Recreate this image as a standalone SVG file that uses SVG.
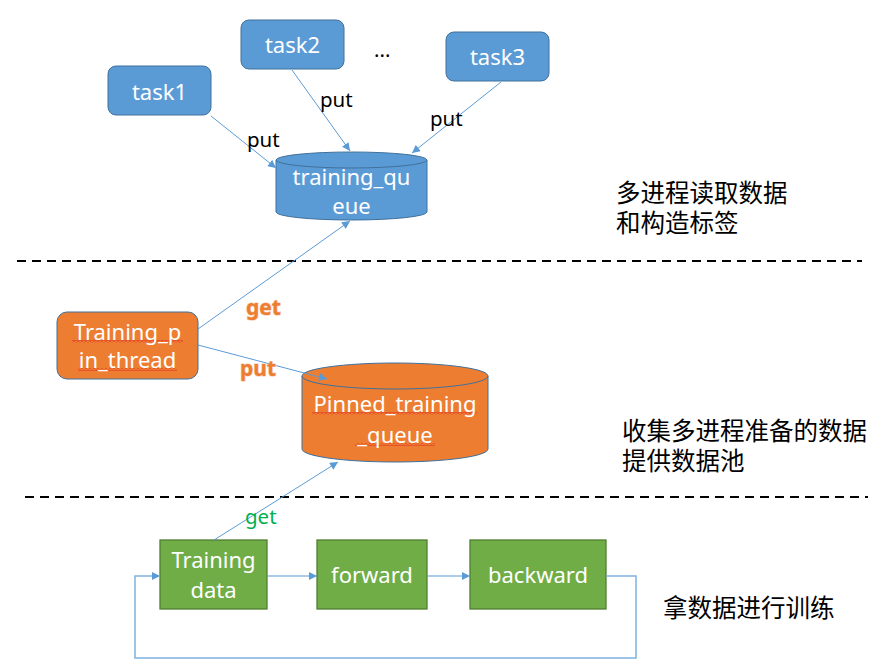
<svg xmlns="http://www.w3.org/2000/svg" width="882" height="664" viewBox="0 0 882 664">
<defs>
<marker id="arr" viewBox="0 0 10 10" refX="10" refY="5" markerWidth="9" markerHeight="8" markerUnits="userSpaceOnUse" orient="auto">
<path d="M0,0 L10,5 L0,10 Z" fill="#5B9BD5"/>
</marker>
<pattern id="sq" width="4" height="3" patternUnits="userSpaceOnUse">
<path d="M0,0.5 L2,2.5 L4,0.5" fill="none" stroke="#E02020" stroke-width="0.9"/>
</pattern>
</defs>
<style>
text{font-family:"Noto Sans","Noto Sans CJK SC",sans-serif}
.w{fill:#FFFFFF;font-size:22px;text-anchor:middle}
.b{fill:#000000;font-size:20.5px}
.cn{fill:#000000;font-size:24.5px;font-family:"DejaVu Sans","Noto Sans CJK SC",sans-serif}
.og{fill:#ED7D31;stroke:#F8CBAD;stroke-width:1.2;paint-order:stroke;font-size:21px;font-weight:bold}
.gg{fill:#00B050;font-size:20.5px}
.blue{fill:#5B9BD5;stroke:#41719C;stroke-width:1}
.orange{fill:#ED7D31;stroke:#41719C;stroke-width:1}
.green{fill:#70AD47;stroke:#507E32;stroke-width:1.3}
.c{fill:none;stroke:#5B9BD5;stroke-width:1}
.dash{stroke:#000000;stroke-width:2;stroke-dasharray:9,6;fill:none}
</style>

<g id="separators">
<line class="dash" x1="17" y1="261" x2="862" y2="261"/>
<line class="dash" x1="25" y1="497" x2="868" y2="497"/>
</g>

<g id="task1">
<rect class="blue" x="108" y="66" width="103" height="49" rx="8"/>
<text class="w" x="159.5" y="100">task1</text>
</g>
<g id="task2">
<rect class="blue" x="241" y="20" width="103" height="49" rx="8"/>
<text class="w" x="292.5" y="53">task2</text>
</g>
<g id="task3">
<rect class="blue" x="446" y="32" width="103" height="49" rx="8"/>
<text class="w" x="497.5" y="65">task3</text>
</g>
<g id="ellipsis">
<text class="b" x="374" y="57">...</text>
</g>

<g id="training_queue">
<path class="blue" d="M276,160 A75.5,8 0 0 1 427,160 L427,212 A75.5,8 0 0 1 276,212 Z"/>
<path d="M276,160 A75.5,8 0 0 0 427,160" fill="none" stroke="#41719C" stroke-width="1"/>
<text class="w" x="351.5" y="185">training_qu</text>
<text class="w" x="351.5" y="214">eue</text>
</g>

<g id="training_pin_thread">
<rect class="orange" x="57" y="312" width="141" height="67" rx="10"/>
<rect x="72" y="340" width="111" height="3" fill="url(#sq)"/>
<rect x="78" y="368" width="99" height="3" fill="url(#sq)"/>
<text class="w" x="127.5" y="340">Training_p</text>
<text class="w" x="127.5" y="368">in_thread</text>
</g>

<g id="pinned_training_queue">
<path class="orange" d="M302,376 A93,13 0 0 1 488,376 L488,449 A93,13 0 0 1 302,449 Z"/>
<path d="M302,376 A93,13 0 0 0 488,376" fill="none" stroke="#41719C" stroke-width="1"/>
<rect x="312" y="412" width="165" height="3" fill="url(#sq)"/>
<rect x="355" y="443" width="80" height="3" fill="url(#sq)"/>
<text class="w" x="395" y="412">Pinned_training</text>
<text class="w" x="395" y="443">_queue</text>
</g>

<g id="training_data">
<rect class="green" x="160" y="540" width="107" height="69"/>
<text class="w" x="213.5" y="568">Training</text>
<text class="w" x="213.5" y="598">data</text>
</g>
<g id="forward">
<rect class="green" x="317" y="540" width="110" height="69"/>
<text class="w" x="372" y="583">forward</text>
</g>
<g id="backward">
<rect class="green" x="470" y="540" width="136" height="69"/>
<text class="w" x="538" y="583">backward</text>
</g>

<g id="connectors">
<line class="c" x1="211" y1="116" x2="276" y2="168" marker-end="url(#arr)"/>
<line class="c" x1="292" y1="70" x2="350" y2="151" marker-end="url(#arr)"/>
<line class="c" x1="501" y1="82" x2="412" y2="153" marker-end="url(#arr)"/>
<line class="c" x1="198" y1="329" x2="350" y2="221" marker-end="url(#arr)"/>
<line class="c" x1="198" y1="345" x2="327" y2="379" marker-end="url(#arr)"/>
<line class="c" x1="214" y1="540" x2="338" y2="462" marker-end="url(#arr)"/>
<line class="c" x1="267" y1="576" x2="317" y2="576" marker-end="url(#arr)"/>
<line class="c" x1="427" y1="576" x2="470" y2="576" marker-end="url(#arr)"/>
<path d="M606,576 L636,576 L636,658 L135,658 L135,576 L160,576" fill="none" stroke="#7FB2E0" stroke-width="1.5" marker-end="url(#arr)"/>
</g>

<g id="labels">
<text class="b" x="247" y="147">put</text>
<text class="b" x="320" y="107">put</text>
<text class="b" x="430" y="126">put</text>
<text class="og" x="246" y="315">get</text>
<text class="og" x="240" y="376">put</text>
<text class="gg" x="245" y="524">get</text>
<text class="cn" x="616" y="202">多进程读取数据<tspan x="616" dy="30">和构造标签</tspan></text>
<text class="cn" x="622" y="440">收集多进程准备的数据<tspan x="622" dy="30">提供数据池</tspan></text>
<text class="cn" x="663" y="617">拿数据进行训练</text>
</g>
</svg>
